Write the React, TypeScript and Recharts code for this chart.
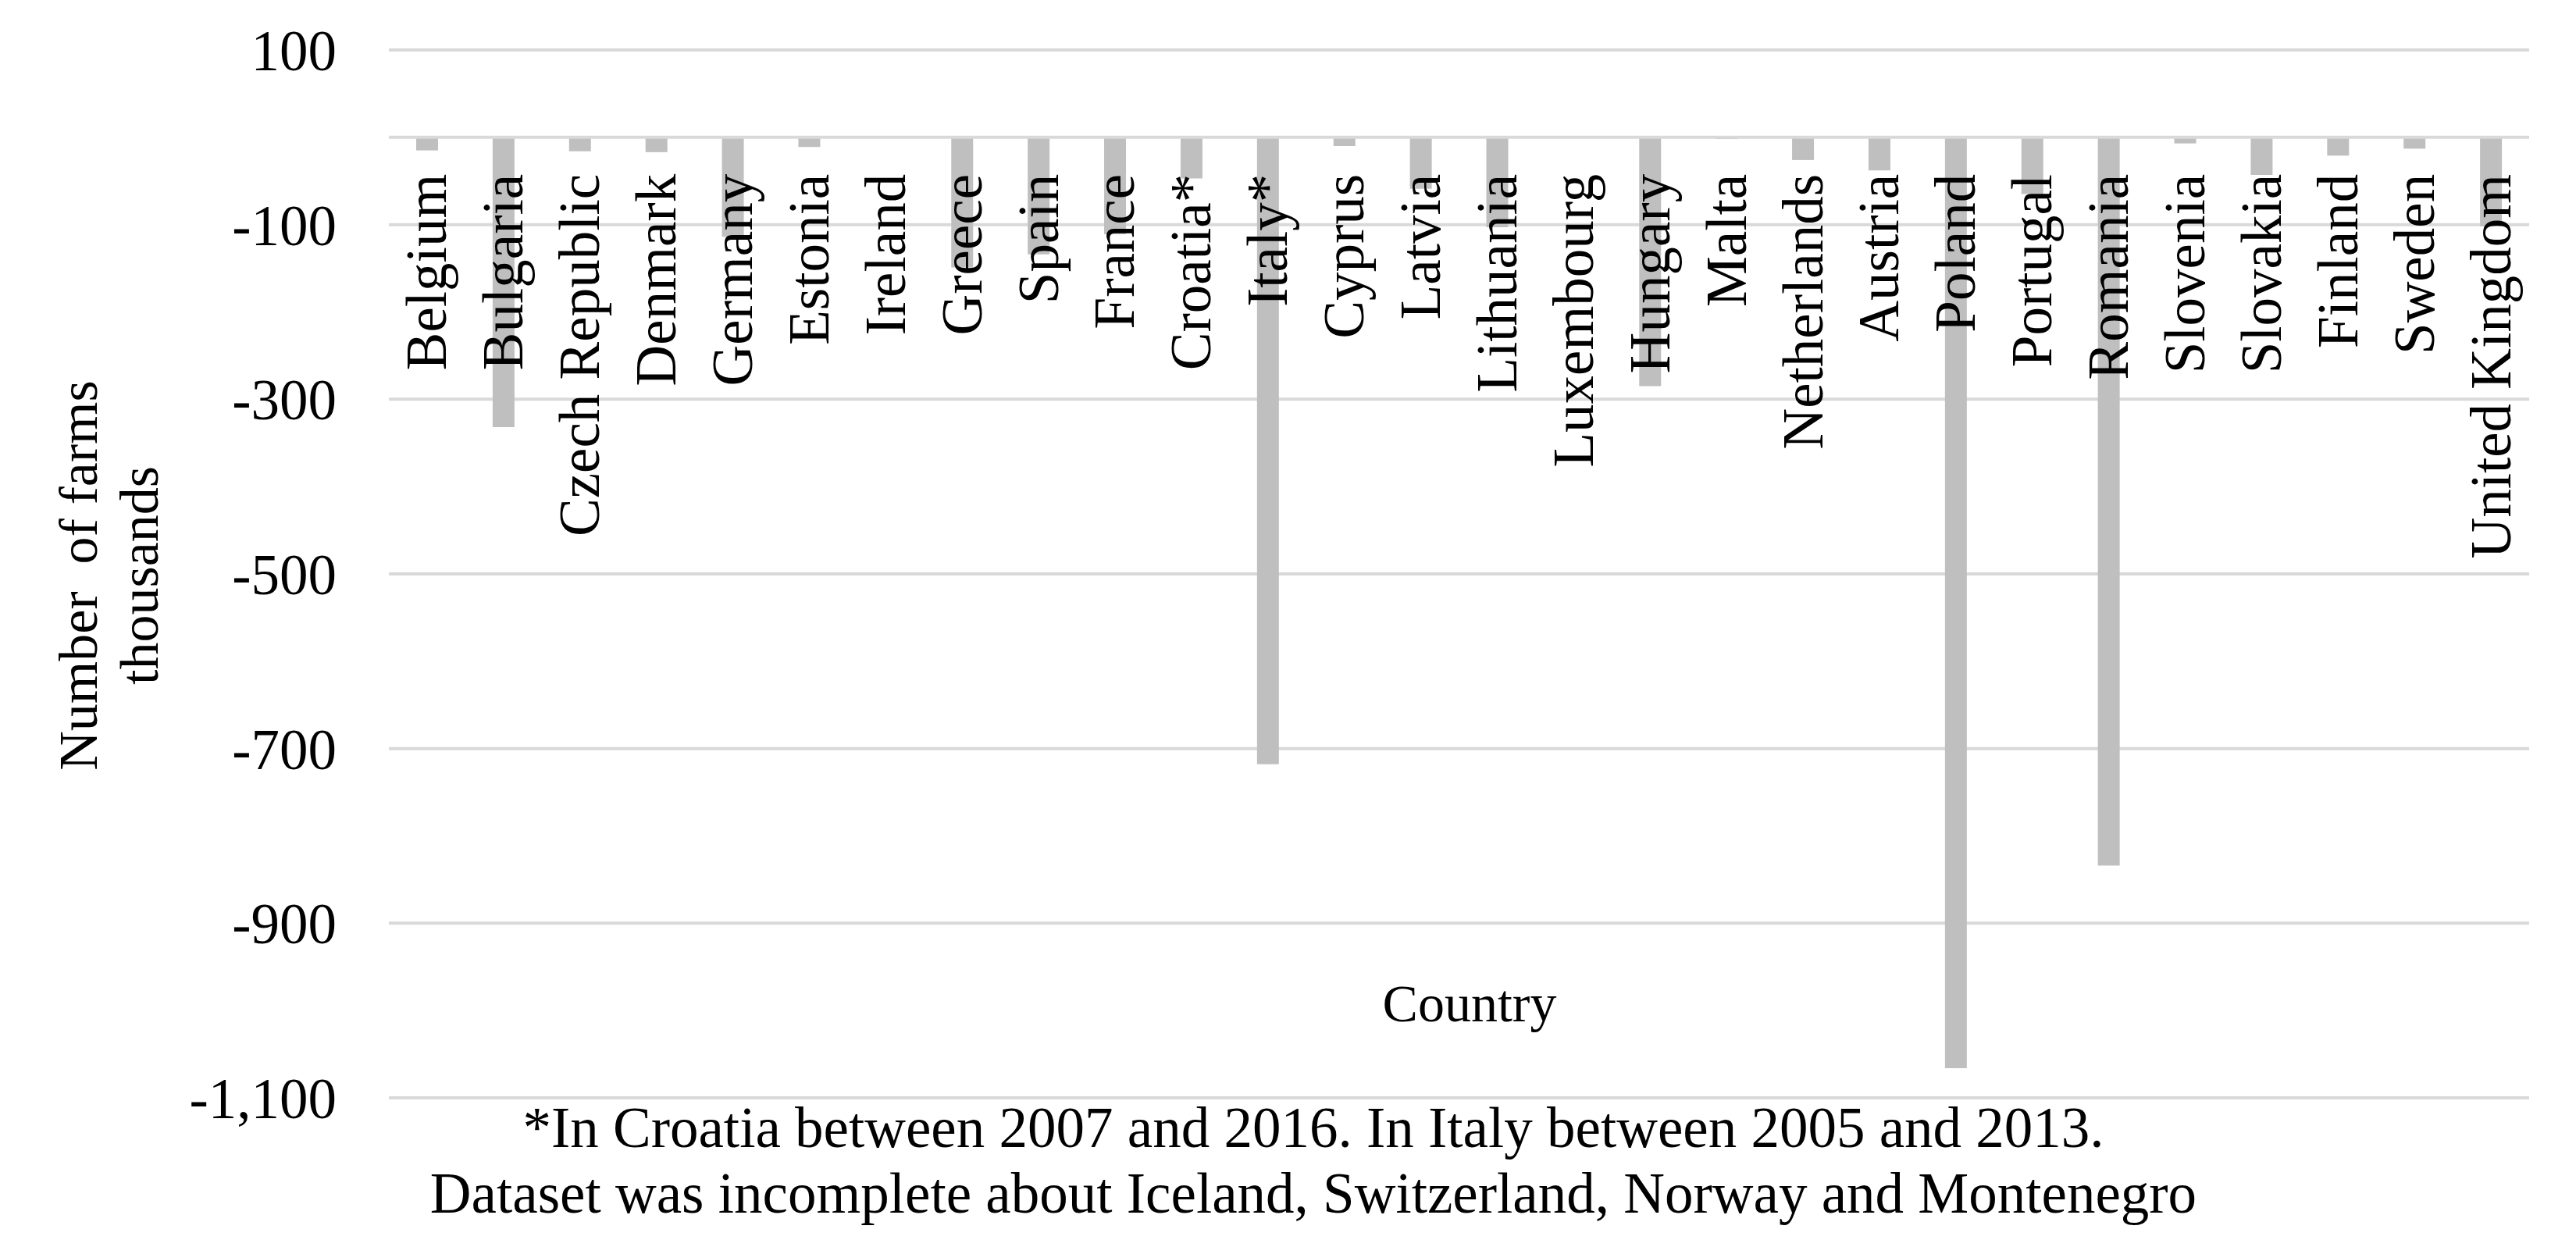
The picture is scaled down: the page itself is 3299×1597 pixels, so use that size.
import React from 'react'
import { BarChart, Bar, XAxis, YAxis, CartesianGrid, ReferenceLine, Label } from 'recharts'

const countries = [
    'Belgium', 'Bulgaria', 'Czech Republic', 'Denmark', 'Germany', 'Estonia', 'Ireland',
    'Greece', 'Spain', 'France', 'Croatia*', 'Italy*', 'Cyprus', 'Latvia', 'Lithuania',
    'Luxembourg', 'Hungary', 'Malta', 'Netherlands', 'Austria', 'Poland', 'Portugal',
    'Romania', 'Slovenia', 'Slovakia', 'Finland', 'Sweden', 'United Kingdom',
]

// change in number of farms, thousands
const farmChange = [
    -15, -332, -16, -17, -114, -11, 0,
    -149, -134, -111, -47, -718, -10, -59, -103,
    -1, -285, -2, -26, -38, -1066, -65,
    -834, -7, -43, -21, -13, -102,
]

const yTicks = [100, -100, -300, -500, -700, -900, -1100]
const yDomain = [-1100, 100]

const yTitle = ['Number\u00a0\u00a0of farms', 'thousands']
const xTitle = 'Country'
const footnote = [
    '*In Croatia between 2007 and 2016. In Italy between 2005 and 2013.',
    'Dataset was incomplete about Iceland, Switzerland, Norway and Montenegro',
]

const data = countries.map((name, i) => ({ name, change: farmChange[i] }))

const W = 3283
const H = 1581
const M = { top: 56, right: 52, left: 0, bottom: 153 }
const PLOT_H = 1342
const FONT = "'Liberation Serif', 'Times New Roman', serif"

// where the zero line lands, so the category labels hang under it
const zeroY = M.top + ((yDomain[1] - 0) / (yDomain[1] - yDomain[0])) * PLOT_H
const labelY = zeroY + 47

const CategoryTick = (props: any) => {
    const { x, payload } = props
    return (
        <text
            x={x}
            y={labelY}
            transform={`rotate(-90, ${x}, ${labelY})`}
            textAnchor='end'
            dominantBaseline='central'
            fontFamily={FONT}
            fontSize={73}
            fill='#000'
        >
            {payload.value}
        </text>
    )
}

const renderYTitle = () => (
    <g>
        {yTitle.map((line, i) => {
            const cx = 92 + i * 78
            const cy = 729
            return (
                <text
                    key={line}
                    x={cx}
                    y={cy}
                    transform={`rotate(-90, ${cx}, ${cy})`}
                    textAnchor='middle'
                    dominantBaseline='central'
                    fontFamily={FONT}
                    fontSize={70}
                    fill='#000'
                >
                    {line}
                </text>
            )
        })}
    </g>
)

const renderNotes = () => (
    <g fontFamily={FONT} fill='#000'>
        <text x={1874} y={1300} textAnchor='middle' fontSize={68}>
            {xTitle}
        </text>
        {footnote.map((line, i) => (
            <text key={i} x={1674} y={1461 + i * 84} textAnchor='middle' fontSize={73}>
                {line}
            </text>
        ))}
    </g>
)

export default function App() {
    return (
        <BarChart width={W} height={H} data={data} margin={M}>
            <CartesianGrid horizontal vertical={false} stroke='#d9d9d9' strokeWidth={4} />
            <XAxis
                dataKey='name'
                height={30}
                interval={0}
                axisLine={false}
                tickLine={false}
                tick={<CategoryTick />}
            >
                <Label content={renderNotes} />
            </XAxis>
            <YAxis
                type='number'
                domain={yDomain}
                ticks={yTicks}
                interval={0}
                width={490}
                axisLine={false}
                tickLine={false}
                tickSize={0}
                tickMargin={67}
                tickFormatter={(v) => Number(v).toLocaleString('en-US')}
                tick={{ fontFamily: FONT, fontSize: 73, fill: '#000' }}
            >
                <Label content={renderYTitle} />
            </YAxis>
            <ReferenceLine y={0} stroke='#d9d9d9' strokeWidth={4} />
            <Bar dataKey='change' fill='#bfbfbf' barSize={28} isAnimationActive={false} />
        </BarChart>
    )
}
